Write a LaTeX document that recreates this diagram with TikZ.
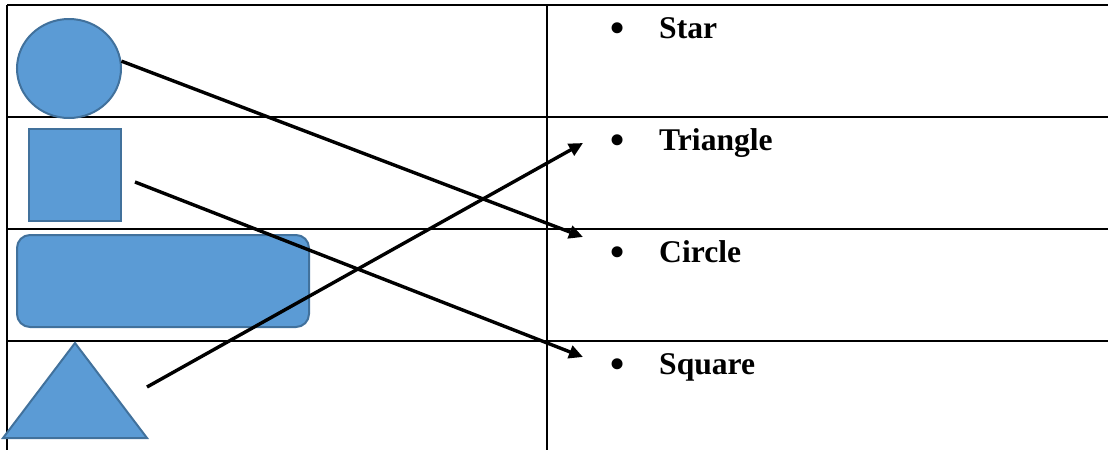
\documentclass[tikz,border=0pt]{standalone}
\usepackage{fontspec}
\setmainfont{Liberation Serif}
\usetikzlibrary{positioning,shapes.geometric,arrows.meta}
\definecolor{shapeblue}{HTML}{5B9BD5}
\definecolor{shapeedge}{HTML}{41719C}
\tikzset{
  tableline/.style={line width=2.2pt},
  bluefill/.style={fill=shapeblue, draw=shapeedge, line width=2pt, inner sep=0pt},
  matcharrow/.style={line width=3.4pt, -{Triangle[length=14pt,width=13pt]}},
  itemtext/.style={font=\fontsize{31.6}{38}\selectfont\bfseries, inner sep=0pt},
  itembullet/.style={font=\fontsize{46}{50}\selectfont, inner sep=0pt}
}
\begin{document}
\begin{tikzpicture}[x=1pt, y=-1pt]
\useasboundingbox (0,0) rectangle (1108,450);

% table
\foreach \yy in {5,117,229,341}
  \draw[tableline] (7,\yy) -- (1108,\yy);
\draw[tableline] (7,5) -- (7,450);
\draw[tableline] (547,5) -- (547,450);

% shapes
\node[bluefill, ellipse, minimum width=104pt, minimum height=99pt] (circ) at (69,68.5) {};
\node[bluefill, rectangle, minimum width=92pt, minimum height=92pt] (sq) at (75,175) {};
\node[bluefill, rectangle, rounded corners=13pt, minimum width=292pt, minimum height=92pt] (bar) at (163,281) {};
\coordinate (tritop) at (75,343);
\coordinate (triright) at (147,438);
\coordinate (trileft) at (3,438);
\draw[bluefill] (tritop) -- (triright) -- (trileft) -- cycle;

% items
\foreach \txt [count=\i] in {Star,Triangle,Circle,Square}{
  \node[itembullet, anchor=base] (bul\i) at (617.5,{43+112*(\i-1)}) {\textbullet};
  \node[itemtext, anchor=base west] (item\i) at (659,{38+112*(\i-1)}) {\txt};
}

% connectors
\coordinate (sqtail) at (135,182);
\coordinate (tritail) at (147,387);
\coordinate (tiptri) at (583,143);
\coordinate (tipcirc) at (583,237);
\coordinate (tipsq) at (583,357);
\draw[matcharrow] (circ.8) -- (tipcirc);
\draw[matcharrow] (sqtail) -- (tipsq);
\draw[matcharrow] (tritail) -- (tiptri);

\end{tikzpicture}
\end{document}
